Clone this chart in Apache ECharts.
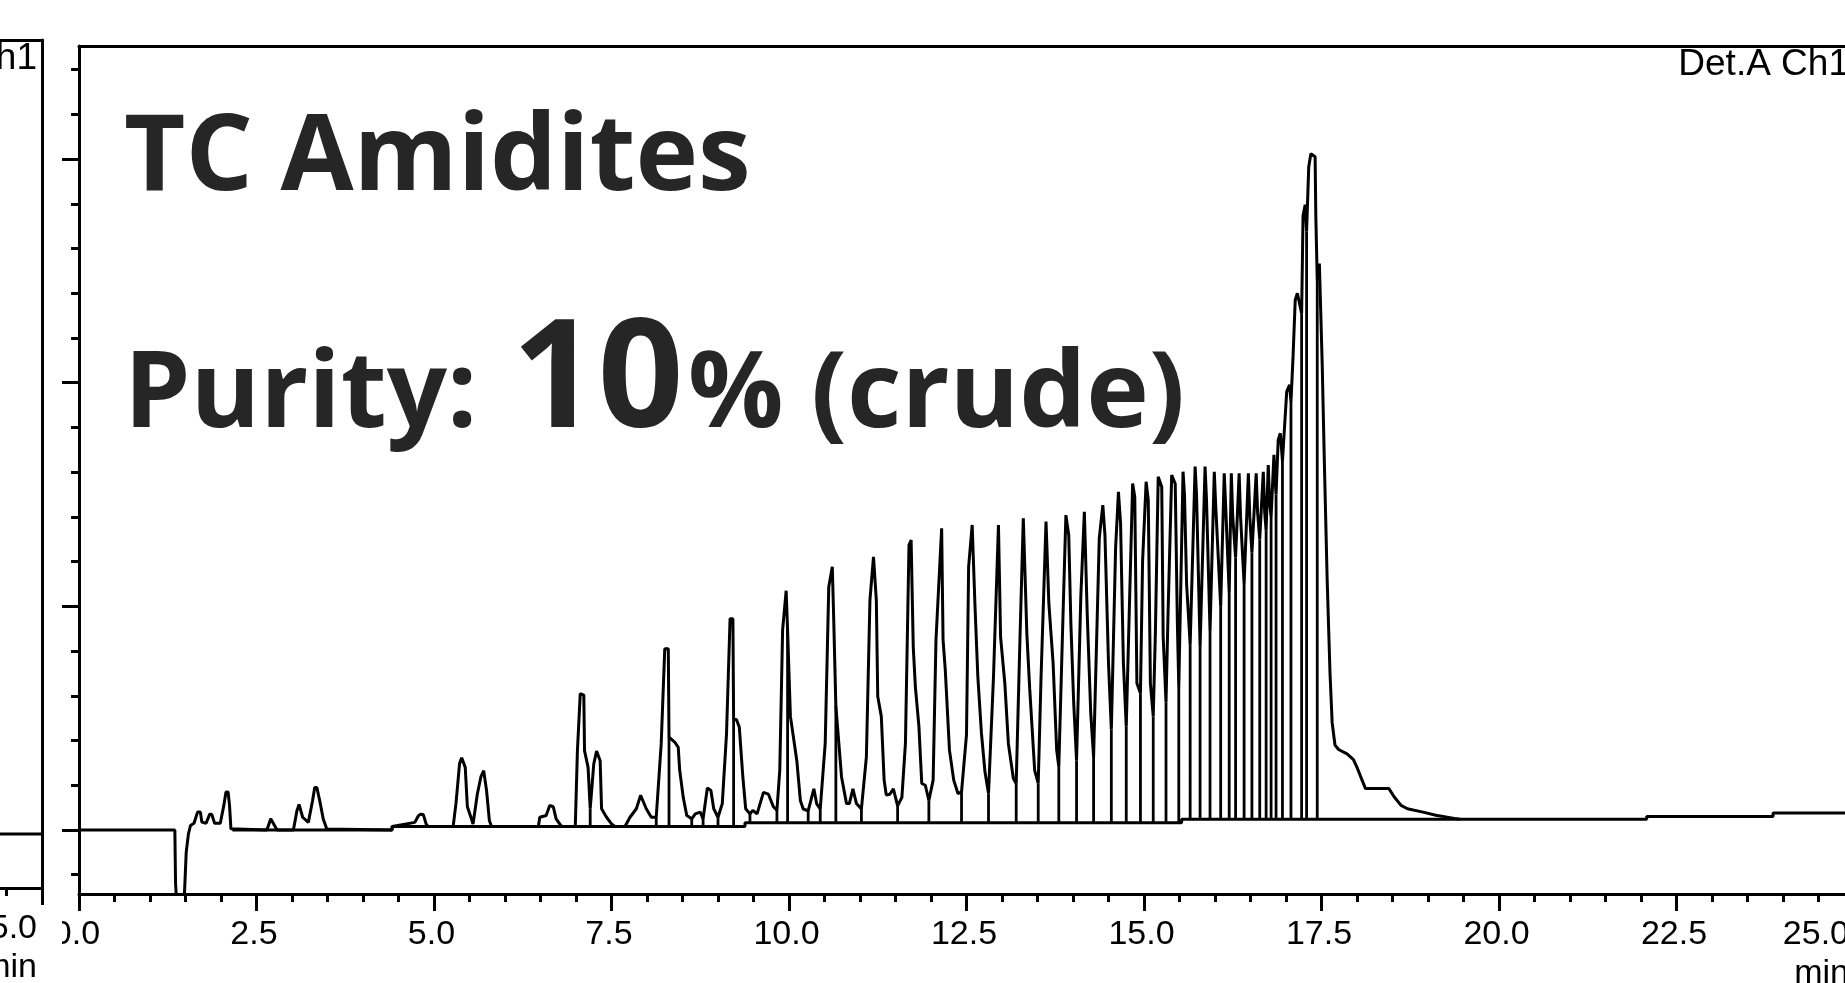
<!DOCTYPE html>
<html>
<head>
<meta charset="utf-8">
<script src="https://cdn.jsdelivr.net/npm/echarts@6/dist/echarts.min.js"></script>
<style>
html, body { margin: 0; padding: 0; background: #fff; }
#main { width: 1845px; height: 983px; }
</style>
</head>
<body>
<div id="main"></div>
<script>
// 色谱图 trace, [min, signal] 读自图
var trace0to5 = [
    [0, 0], [1.35, 0], [1.36, -24], [1.39, -40], [1.47, -40], [1.51, -10], [1.54, -2], [1.57, 2],
    [1.62, 3], [1.64, 5], [1.67, 8], [1.71, 8], [1.73, 3.5], [1.79, 3], [1.84, 7], [1.87, 7],
    [1.91, 3], [1.99, 3], [2.04, 11], [2.07, 17], [2.10, 17], [2.12, 11], [2.14, 0.5], [2.16, 0],
    [2.64, 0], [2.66, 1.2], [2.70, 5], [2.72, 5], [2.79, 0], [3.02, 0], [3.07, 8.7], [3.10, 11.4],
    [3.15, 5.7], [3.23, 3.4], [3.29, 13.2], [3.32, 19], [3.35, 19], [3.39, 13.2], [3.44, 4.9],
    [3.49, 0.4], [4.41, 0], [4.41, 1.6], [4.73, 3.4], [4.78, 6.4], [4.81, 7], [4.85, 6.9],
    [4.89, 2.6], [4.92, 1.6]
];
var trace5to10 = [
    [5.27, 1.6], [5.31, 12], [5.36, 29.7], [5.39, 32.3], [5.44, 28], [5.47, 10.4], [5.52, 5.7],
    [5.55, 2.7], [5.61, 16], [5.66, 23.7], [5.70, 26.5], [5.74, 17.7], [5.78, 4.2], [5.81, 1.6],
    [6.47, 1.6], [6.49, 5.7], [6.58, 6.5], [6.63, 11], [6.68, 10.4], [6.72, 5], [6.77, 2.7],
    [6.80, 1.6], [6.99, 1.6], [7.02, 35.5], [7.06, 61], [7.11, 60.3], [7.12, 35.5], [7.17, 28],
    [7.20, 9.5], [7.25, 29.5], [7.29, 35.3], [7.34, 31], [7.36, 9.5], [7.43, 5.7], [7.50, 2.7],
    [7.55, 1.6], [7.69, 1.6], [7.76, 5.7], [7.85, 9.5], [7.91, 15.5], [7.95, 12.5], [7.99, 9.5],
    [8.06, 5.7], [8.13, 5.7], [8.20, 38.5], [8.25, 81], [8.30, 81], [8.31, 41.5], [8.39, 39.3],
    [8.44, 37], [8.46, 26.8], [8.51, 14.7], [8.56, 6.5], [8.63, 5], [8.68, 7.2], [8.75, 8],
    [8.79, 5], [8.85, 18.8], [8.90, 17.7], [8.94, 9.5], [9.00, 5.7], [9.06, 11.7], [9.12, 43],
    [9.17, 94.5], [9.21, 94.5], [9.22, 49.4], [9.26, 49.4], [9.30, 46], [9.35, 23.7], [9.39, 9.5],
    [9.45, 7.2], [9.49, 8.8], [9.55, 7.2], [9.64, 16.8], [9.71, 16], [9.78, 10.4], [9.83, 8.8],
    [9.87, 26.8], [9.91, 89.4], [9.96, 107], [9.98, 89.4]
];
var trace10to15 = [
    [10.02, 50.8], [10.11, 31], [10.16, 13.2], [10.20, 9.4], [10.27, 8.6], [10.35, 18.4], [10.39, 11.7],
    [10.44, 9.4], [10.51, 38.7], [10.56, 108.7], [10.61, 117.7], [10.63, 94], [10.66, 55.4],
    [10.74, 23.7], [10.81, 11.8], [10.85, 11.8], [10.90, 18.4], [10.95, 11.8], [11.02, 9.4],
    [11.09, 32.7], [11.14, 102.8], [11.19, 122.1], [11.23, 102.8], [11.25, 59.7], [11.30, 50.8],
    [11.34, 22.3], [11.37, 15.6], [11.42, 16], [11.47, 18.4], [11.53, 10.8], [11.59, 14.6],
    [11.64, 38.7], [11.69, 127.4], [11.72, 129.6], [11.75, 81.9], [11.78, 64], [11.83, 46.2],
    [11.87, 20.8], [11.92, 20], [11.97, 13.2], [12.03, 22.3], [12.07, 84.9], [12.15, 134.9],
    [12.17, 84.9], [12.20, 72.2], [12.26, 35.7], [12.32, 22.3], [12.38, 16.3], [12.43, 17],
    [12.50, 42.6], [12.53, 117.7], [12.58, 136.4], [12.62, 99.8], [12.66, 68.4], [12.71, 43.4],
    [12.76, 26], [12.81, 16.3], [12.88, 68.4], [12.95, 136.4], [12.98, 86.4], [13.04, 65.5],
    [13.09, 38.6], [13.16, 23], [13.20, 20.8], [13.25, 81.9], [13.30, 139.4], [13.35, 87.8],
    [13.39, 63.3], [13.46, 26.7], [13.51, 20.8], [13.55, 68.4], [13.62, 137.9], [13.66, 101.3],
    [13.72, 74.5], [13.77, 35.7], [13.80, 28.2], [13.86, 96.9], [13.90, 140.8], [13.94, 131.9],
    [13.97, 92.4], [14.01, 56.7], [14.05, 31.2], [14.11, 104.3], [14.16, 142.3], [14.20, 96.9],
    [14.25, 52.1], [14.29, 32.7], [14.37, 130.4], [14.42, 145.3], [14.45, 132], [14.50, 74.5],
    [14.54, 44.9], [14.60, 126], [14.64, 151.2], [14.67, 137], [14.71, 74.5], [14.75, 46.2],
    [14.81, 118.6], [14.84, 154.9], [14.87, 148.9], [14.90, 65.6], [14.95, 61.1], [14.98, 120.1],
    [15.03, 155.7], [15.06, 147.5], [15.09, 65.6], [15.13, 50.8], [15.16, 87.8], [15.20, 157.9],
    [15.25, 153.4], [15.27, 86.4], [15.31, 57.1], [15.34, 98.3], [15.39, 158.7], [15.44, 154.8],
    [15.47, 92.4]
];
var trace15to20 = [
    [15.49, 64], [15.55, 160.2], [15.57, 150], [15.60, 110], [15.65, 83], [15.72, 162.5], [15.74, 150],
    [15.79, 82], [15.86, 162.5], [15.88, 148], [15.93, 89], [15.99, 160.2], [16.01, 145], [16.08, 100],
    [16.13, 159.5], [16.15, 145], [16.20, 106], [16.23, 159.5], [16.25, 140], [16.29, 122],
    [16.34, 159.5], [16.36, 140], [16.41, 110], [16.47, 159.5], [16.49, 140], [16.52, 124],
    [16.58, 159.5], [16.60, 142], [16.63, 130], [16.68, 160.2], [16.70, 142], [16.72, 134],
    [16.75, 163.2], [16.77, 146], [16.79, 140], [16.83, 167.7], [16.85, 155], [16.86, 150],
    [16.89, 174.4], [16.92, 177.4], [16.95, 165], [17.01, 196], [17.05, 199], [17.07, 191.4],
    [17.10, 212.2], [17.13, 237], [17.16, 240], [17.22, 231], [17.24, 274.6], [17.27, 279.6],
    [17.29, 267.7], [17.32, 296.4], [17.35, 302.4], [17.41, 301], [17.42, 274.6], [17.44, 245.9],
    [17.47, 253.3], [17.51, 208.3], [17.54, 164.7], [17.58, 111.7], [17.62, 70.1], [17.65, 48],
    [17.69, 38], [17.74, 36], [17.86, 34], [17.95, 31.5], [18.00, 28], [18.05, 24], [18.12, 18.5],
    [18.45, 18.5], [18.52, 15], [18.62, 11], [18.71, 9.5], [18.93, 8], [19.11, 6.6], [19.37, 5.2],
    [19.45, 4.8]
];

// 积分基线 (分段)
var baseStart = [2.16, 4.41, 9.38, 15.53, 22.08, 23.86];
var baseEnd = [4.41, 9.38, 15.53, 22.08, 23.86, 25];
var baseLevel = [0, 1.6, 3.2, 4.8, 6.0, 7.6];

// 峰谷垂线
var dropTime = [7.20, 8.13, 8.31, 8.63, 8.79, 9.00, 9.22, 9.45, 9.83, 9.98, 10.27, 10.44, 10.66, 11.02,
    11.53, 11.97, 12.43, 12.81, 13.20, 13.51, 13.80, 14.05, 14.29, 14.54, 14.75, 14.95, 15.13, 15.31,
    15.49, 15.65, 15.79, 15.93, 16.08, 16.20, 16.29, 16.41, 16.52, 16.63, 16.72, 16.79, 16.86, 16.95,
    17.07, 17.22, 17.29, 17.44];
var dropTop = [9.5, 5.7, 41.5, 5, 5, 5.7, 49.4, 7.2, 8.8, 89.4, 8.6, 9.4, 55.4, 9.4,
    10.8, 13.2, 17, 16.3, 20.8, 20.8, 28.2, 31.2, 32.7, 44.9, 46.2, 61.1, 50.8, 57.1,
    64, 83, 82, 89, 100, 106, 122, 110, 124, 130, 134, 140, 150, 165,
    191.4, 231, 267.7, 245.9];

// 左侧被截掉的上一张图
var leftTrace = [[24.3, -4.5], [25, -4.5]];

var yMin = -28.62, yMax = 350.55;
var tickFont = '"Liberation Sans", Arial, sans-serif';

var traceData = trace0to5.concat(trace5to10, trace10to15, trace15to20);

var baseData = [];
for (var i = 0; i < baseStart.length; i++) {
    baseData.push([baseStart[i], baseLevel[i]]);
    baseData.push([baseEnd[i], baseLevel[i]]);
}

function baseAt(t) {
    for (var k = 0; k < baseStart.length; k++) {
        if (t >= baseStart[k] && t < baseEnd[k]) return baseLevel[k];
    }
    return 0;
}
var dropData = [];
for (var j = 0; j < dropTime.length; j++) {
    dropData.push([dropTime[j], baseAt(dropTime[j])]);
    dropData.push([dropTime[j], dropTop[j]]);
    dropData.push([dropTime[j], '-']);
}

var black = { color: '#000', width: 3 };
var tickLabel = {
    color: '#000', fontSize: 34, fontFamily: tickFont, margin: 24,
    alignMaxLabel: 'right', padding: [0, 5, 0, 0],
    formatter: function (v) { return v.toFixed(1); }
};

var chartDom = document.getElementById('main');
var myChart = echarts.init(chartDom);
var option;
option = {
    backgroundColor: '#fff',
    animation: false,
    grid: [
        { left: 79, right: -9, top: 46, bottom: 89, outerBoundsMode: 'none', containLabel: false },
        { left: -1733, width: 1775, top: 40, bottom: 95, outerBoundsMode: 'none', containLabel: false },
        { left: 79, width: 1, top: 69.6, bottom: 108.3, outerBoundsMode: 'none', containLabel: false },
        { left: 79, width: 1, top: 159.05, bottom: 153, outerBoundsMode: 'none', containLabel: false }
    ],
    xAxis: [
        {
            gridIndex: 0, type: 'value', min: 0, max: 25, interval: 2.5, position: 'bottom',
            axisLine: { onZero: false, lineStyle: black },
            axisTick: { length: 17, lineStyle: black },
            minorTick: { show: true, splitNumber: 5, length: 8, lineStyle: black },
            splitLine: { show: false },
            axisLabel: tickLabel
        },
        {
            gridIndex: 0, type: 'value', min: 0, max: 25, position: 'top',
            axisLine: { onZero: false, lineStyle: black }, axisTick: { show: false },
            axisLabel: { show: false }, splitLine: { show: false }
        },
        {
            gridIndex: 1, type: 'value', min: 0, max: 25, interval: 2.5, position: 'bottom',
            axisLine: { onZero: false, lineStyle: black },
            axisTick: { length: 17, lineStyle: black },
            minorTick: { show: true, splitNumber: 5, length: 8, lineStyle: black },
            splitLine: { show: false },
            axisLabel: tickLabel
        },
        {
            gridIndex: 1, type: 'value', min: 0, max: 25, position: 'top',
            axisLine: { onZero: false, lineStyle: black }, axisTick: { show: false },
            axisLabel: { show: false }, splitLine: { show: false }
        },
        { gridIndex: 2, type: 'value', show: false },
        { gridIndex: 3, type: 'value', show: false }
    ],
    yAxis: [
        {
            gridIndex: 0, type: 'value', min: yMin, max: yMax, position: 'left',
            axisLine: { show: true, onZero: false, lineStyle: black }, axisTick: { show: false },
            axisLabel: { show: false }, splitLine: { show: false }
        },
        {
            gridIndex: 1, type: 'value', min: yMin, max: yMax, position: 'right',
            axisLine: { show: true, onZero: false, lineStyle: black }, axisTick: { show: false },
            axisLabel: { show: false }, splitLine: { show: false }
        },
        {
            // 小刻度
            gridIndex: 2, type: 'value', min: -20, max: 340, interval: 20, position: 'left',
            axisLine: { show: false, onZero: false }, axisTick: { show: true, length: 8, lineStyle: black },
            axisLabel: { show: false }, splitLine: { show: false }
        },
        {
            // 大刻度
            gridIndex: 3, type: 'value', min: 0, max: 300, interval: 100, position: 'left',
            axisLine: { show: false, onZero: false }, axisTick: { show: true, length: 17, lineStyle: black },
            axisLabel: { show: false }, splitLine: { show: false }
        }
    ],
    graphic: [
        { type: 'rect', z: 100, shape: { x: 44, y: 897, width: 18, height: 86 }, style: { fill: '#fff' } },
        { type: 'text', x: 1849, y: 46, style: { text: 'Det.A Ch1', fill: '#000', font: '37px ' + tickFont, textAlign: 'right', textVerticalAlign: 'top' } },
        { type: 'text', x: 37, y: 40, style: { text: 'Det.A Ch1', fill: '#000', font: '37px ' + tickFont, textAlign: 'right', textVerticalAlign: 'top' } },
        { type: 'text', x: 1849, y: 957, style: { text: 'min', fill: '#000', font: '34px ' + tickFont, textAlign: 'right', textVerticalAlign: 'top' } },
        { type: 'text', x: 37, y: 951, style: { text: 'min', fill: '#000', font: '34px ' + tickFont, textAlign: 'right', textVerticalAlign: 'top' } },
        { type: 'text', x: 124, y: 107, z: 50, style: { text: 'TC Amidites', fill: '#262626', font: 'bold 106px "Open Sans"', textAlign: 'left', textVerticalAlign: 'top' } },
        { type: 'text', x: 124, y: 344, z: 50, style: { text: 'Purity:', fill: '#262626', font: 'bold 106px "Open Sans"', textAlign: 'left', textVerticalAlign: 'top' } },
        { type: 'text', x: 512, y: 309, z: 50, style: { text: '10', fill: '#262626', font: 'bold 150px "Open Sans"', textAlign: 'left', textVerticalAlign: 'top' } },
        { type: 'text', x: 688, y: 344, z: 50, style: { text: '% (crude)', fill: '#262626', font: 'bold 106px "Open Sans"', textAlign: 'left', textVerticalAlign: 'top' } }
    ],
    series: [
        {
            name: 'baseline', type: 'line', xAxisIndex: 0, yAxisIndex: 0,
            data: baseData, symbol: 'none', lineStyle: { color: '#000', width: 3 }
        },
        {
            name: 'drop', type: 'line', xAxisIndex: 0, yAxisIndex: 0,
            data: dropData, symbol: 'none', connectNulls: false, lineStyle: { color: '#000', width: 2.8 }
        },
        {
            name: 'Det.A Ch1', type: 'line', xAxisIndex: 0, yAxisIndex: 0,
            data: traceData, symbol: 'none', clip: true, lineStyle: { color: '#000', width: 3 }
        },
        {
            name: 'left', type: 'line', xAxisIndex: 2, yAxisIndex: 1,
            data: leftTrace, symbol: 'none', lineStyle: { color: '#000', width: 3 }
        }
    ]
};
option && myChart.setOption(option);
</script>
</body>
</html>
